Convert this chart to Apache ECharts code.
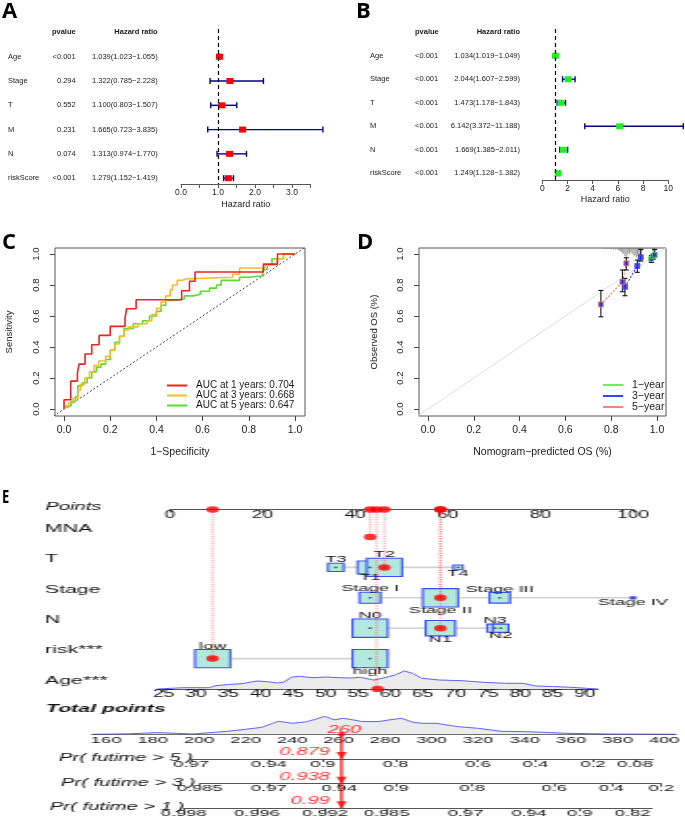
<!DOCTYPE html>
<html>
<head>
<meta charset="utf-8">
<script src="https://cdn.jsdelivr.net/npm/echarts@6/dist/echarts.min.js"></script>
<style>
html,body{margin:0;padding:0;background:#fff;overflow:hidden;}
#main{position:absolute;left:0;top:0;width:685px;height:817px;}
#nomo{position:absolute;left:0;top:485px;width:355px;height:332px;transform:scaleX(1.93);transform-origin:0 0;}
</style>
</head>
<body>
<div id="main"></div>
<div id="nomo"></div>
<script>
// ================= DATA =================
// Panels A / B : forest plots
const forestVars = ['Age','Stage','T','M','N','riskScore'];
const uniP  = ['<0.001','0.294','0.552','0.231','0.074','<0.001'];
const uniHR = [1.039,1.322,1.100,1.665,1.313,1.279];
const uniLo = [1.023,0.785,0.803,0.723,0.974,1.152];
const uniHi = [1.055,2.228,1.507,3.835,1.770,1.419];
const multiP  = ['<0.001','<0.001','<0.001','<0.001','<0.001','<0.001'];
const multiHR = [1.034,2.044,1.473,6.142,1.669,1.249];
const multiLo = [1.019,1.607,1.178,3.372,1.385,1.128];
const multiHi = [1.049,2.599,1.843,11.188,2.011,1.382];

// Panel C : time-dependent ROC
const rocYears = [1,3,5];
const rocAUC = [0.704,0.668,0.647];
const rocX1 = [0,0,0.029,0.058,0.065,0.091,0.12,0.152,0.2,0.264,0.271,0.312,0.509,0.543,0.567,0.863,0.924,1.0];
const rocY1 = [0,0.06,0.18,0.232,0.29,0.355,0.415,0.475,0.533,0.587,0.647,0.705,0.763,0.824,0.884,0.935,1.0,1.0];
const rocX3 = [0,0.02,0.04,0.06,0.07,0.09,0.11,0.13,0.15,0.18,0.2,0.22,0.24,0.26,0.28,0.32,0.36,0.38,0.4,0.42,0.44,0.46,0.47,0.49,0.51,0.53,0.73,0.76,0.87,0.92,0.95,1.0];
const rocY3 = [0.01,0.04,0.07,0.12,0.16,0.2,0.24,0.28,0.31,0.34,0.38,0.42,0.47,0.51,0.53,0.55,0.57,0.61,0.65,0.69,0.73,0.77,0.8,0.83,0.84,0.85,0.87,0.91,0.93,0.97,1.0,1.0];
const rocX5 = [0,0.03,0.05,0.06,0.08,0.1,0.12,0.14,0.16,0.18,0.2,0.22,0.24,0.26,0.3,0.34,0.37,0.4,0.42,0.44,0.48,0.52,0.56,0.59,0.63,0.66,0.68,0.76,0.8,0.86,0.88,0.9,0.95,1.0];
const rocY5 = [0.02,0.05,0.08,0.15,0.17,0.2,0.24,0.27,0.29,0.32,0.38,0.43,0.47,0.52,0.55,0.57,0.6,0.63,0.67,0.7,0.71,0.73,0.74,0.76,0.78,0.8,0.83,0.85,0.86,0.9,0.93,0.97,1.0,1.0];
const unitTicks = [0,0.2,0.4,0.6,0.8,1.0];
const diagLine = [[-0.06,-0.06],[1.06,1.06]];

// Panel D : calibration
const calNames = ['1\u2212year','3\u2212year','5\u2212year'];
const cal1X = [0.975,0.983,0.990], cal1Y = [0.968,0.985,0.995], cal1Lo = [0.946,0.965,0.980], cal1Hi = [0.990,1.000,1.030];
const cal3X = [0.860,0.914,0.929], cal3Y = [0.789,0.923,0.979], cal3Lo = [0.731,0.882,0.955], cal3Hi = [0.843,0.961,1.030];
const cal5X = [0.755,0.849,0.866], cal5Y = [0.675,0.821,0.940], cal5Lo = [0.595,0.757,0.897], cal5Hi = [0.765,0.897,0.976];
const rugX = [0.77,0.78,0.79,0.80,0.81,0.82,0.83,0.835,0.84,0.845,0.85,0.855,0.86,0.865,0.87,0.875,0.88,0.885,0.89,0.895,0.90,0.905,0.91,0.915,0.92,0.925,0.93,0.935,0.94,0.95,0.96,0.97,0.98,0.985,0.99];
const rugN = [1,1,1,1.5,1.5,2,2,3,3,4,5,6,8,9,7,5,6,4,5,6,8,7,9,7,10,8,6,3,2,1,1,1,3,9,4];

// Panel E : nomogram
const tLevels = ['T3','T1','T2','T4'];             const tPts = [35.8,43.2,46.3,62.2];  const tFreq = [0.2,0.5,1,0.07];
const stLevels = ['Stage I','Stage II','Stage III','Stage IV']; const stPts = [43.2,58.4,71.2,100]; const stFreq = [0.36,1,0.34,0.015];
const nLevels = ['N0','N1','N3','N2'];             const nPts = [43.2,58.4,70.2,71.4];  const nFreq = [1,0.7,0.2,0.2];
const riskLevels = ['low','high'];                  const riskPts = [9.2,43.2];          const riskFreq = [1,1];
const ageTicks = [25,30,35,40,45,50,55,60,65,70,75,80,85,90];
const ageDensX = [24,28,32,33,35,37,39.4,41,42.5,43.5,44.8,46,48,50,52,54,55.3,57.4,58.7,60.7,62.1,63.4,64.8,67.5,71,74.3,77.7,80.4,82.4,85,87.8,92];
const ageDensY = [0,1.3,1.3,3.3,4.5,5.3,8,7.3,6,6.7,12,12.7,11.3,12,11.3,11,11.7,9,10.7,14,18,15.7,10.7,9,8.3,6.7,5.7,5.7,3,2.5,1.7,0];
const totTicks = [160,180,200,220,240,260,280,300,320,340,360,380,400];
const totDensX = [154,170,182,190,197,204,212,220,227,234,240,246,250,254,258,262,266,270,277,282,287,292,296,302,311,320,330,339,348,358,368,377,390,405];
const totDensY = [0,0.5,1.7,1,0.3,1.5,3,5,7,13,11,12.5,15,18,14.5,16,14.5,12.7,12.7,14.5,16,12,11,11,7.7,6,3,2.7,2,1,0.6,0.3,0.2,0];
const prNames = ['Pr( futime > 5 )','Pr( futime > 3 )','Pr( futime > 1 )'];
const pr5Ticks = ['0.97','0.94','0.9','0.8','0.6','0.4','0.2','0.08'];
const pr5Pos   = [196.1,229.2,252.2,283.1,318.2,342.6,367.2,385.0];
const pr3Ticks = ['0.985','0.97','0.94','0.9','0.8','0.6','0.4','0.2'];
const pr3Pos   = [199.8,229.2,259.1,283.4,315.8,350.7,375.0,396.2];
const pr1Ticks = ['0.998','0.996','0.992','0.985','0.97','0.94','0.9','0.82'];
const pr1Pos   = [193.0,224.1,253.1,279.3,312.9,340.0,361.5,384.0];
const prEnd    = [392.7,396.2,392.3];
const rowNames = ['MNA','T','Stage','N','risk***','Age***'];
const selPoints = [43.2,46.3,58.4,58.4,9.2,44.6];   // MNA, T, Stage, N, risk, Age
const selAge = 58;
const selProb = ['0.879','0.938','0.99'];

// ================= MAIN CHART (A-D) =================
const FF = '"Liberation Sans", Arial, Helvetica, sans-serif';
const TXT = '#1a1a1a';
const grids = [], xAxes = [], yAxes = [], series = [];
const fmtHR = (h, l, u) => h.toFixed(3) + '(' + l.toFixed(3) + '\u2212' + u.toFixed(3) + ')';

function forestPanel(o) {
  const gi = grids.length;
  grids.push({left:o.left, top:o.top, width:o.width, height:o.height});
  const xi = xAxes.length;
  xAxes.push({gridIndex:gi, type:'value', min:o.xmin, max:o.xmax, interval:o.step, position:'bottom',
    axisLine:{show:true, onZero:false, lineStyle:{color:'#555', width:1}},
    axisTick:{show:true, length:4, lineStyle:{color:'#555'}},
    axisLabel:{fontSize:8.5, color:TXT, fontFamily:FF, margin:4, formatter:o.fmt},
    splitLine:{show:false},
    name:'Hazard ratio', nameLocation:'middle', nameGap:o.nameGap,
    nameTextStyle:{fontSize:9, color:TXT, fontFamily:FF}});
  const yi = yAxes.length;
  const base = {gridIndex:gi, type:'value', inverse:true, min:o.ymin, max:o.ymax,
    axisLine:{show:false, onZero:false}, axisTick:{show:false}, splitLine:{show:false}};
  yAxes.push(Object.assign({}, base, {axisLabel:{show:false}}));
  const rowVals = [0].concat(forestVars.map((_, i) => i + 1));
  o.cols.forEach(c => {
    yAxes.push(Object.assign({}, base, {position:'left', offset:o.left - c.x,
      axisLabel:{customValues:rowVals, margin:0, align:c.align, fontSize:7.5, color:TXT, fontFamily:FF,
        formatter:v => { const i = Math.round(v); return i === 0 ? (c.head ? '{h|' + c.head + '}' : '') : c.texts[i - 1]; },
        rich:{h:{fontWeight:'bold', fontSize:7.5, color:TXT, fontFamily:FF}}}}));
  });
  series.push({type:'custom', xAxisIndex:xi, yAxisIndex:yi, clip:false, z:3, silent:true,
    data:o.lo.map((l, i) => [l, o.hi[i], i + 1]),
    renderItem:(params, api) => {
      const a = api.coord([api.value(0), api.value(2)]);
      const b = api.coord([api.value(1), api.value(2)]);
      const st = {stroke:'#00008B', lineWidth:1.4};
      const c = 3;
      return {type:'group', children:[
        {type:'line', shape:{x1:a[0], y1:a[1], x2:b[0], y2:b[1]}, style:st},
        {type:'line', shape:{x1:a[0], y1:a[1]-c, x2:a[0], y2:a[1]+c}, style:st},
        {type:'line', shape:{x1:b[0], y1:b[1]-c, x2:b[0], y2:b[1]+c}, style:st}]};
    }});
  series.push({type:'scatter', xAxisIndex:xi, yAxisIndex:yi, z:4, symbol:'rect', symbolSize:[7,6], silent:true,
    itemStyle:{color:o.color, opacity:1}, data:o.hr.map((h, i) => [h, i + 1]),
    markLine:{silent:true, symbol:'none', label:{show:false}, lineStyle:{color:'#000', type:[4,3], width:1.2},
      data:[{xAxis:1}]}});
}

forestPanel({left:181, top:29, width:129.5, height:155, xmin:0, xmax:3.5, step:0.5,
  fmt:v => (Math.abs(v - Math.round(v)) < 1e-9 ? v.toFixed(1) : ''), nameGap:16,
  ymin:-0.14, ymax:6.24, color:'#FF0000', hr:uniHR, lo:uniLo, hi:uniHi,
  cols:[{x:8, align:'left', head:'', texts:forestVars},
        {x:75.7, align:'right', head:'pvalue', texts:uniP},
        {x:157.7, align:'right', head:'Hazard ratio', texts:uniHR.map((h, i) => fmtHR(h, uniLo[i], uniHi[i]))}]});
forestPanel({left:542.3, top:29, width:126, height:151, xmin:0, xmax:10, step:2,
  fmt:v => String(v), nameGap:15,
  ymin:-0.136, ymax:6.284, color:'#22EE22', hr:multiHR, lo:multiLo, hi:multiHi,
  cols:[{x:370, align:'left', head:'', texts:forestVars},
        {x:415, align:'left', head:'pvalue', texts:multiP},
        {x:520, align:'right', head:'Hazard ratio', texts:multiHR.map((h, i) => fmtHR(h, multiLo[i], multiHi[i]))}]});

function xyPanel(o) {
  const gi = grids.length;
  grids.push({left:o.left, top:248, width:o.width, height:168, show:true, borderColor:'#555', borderWidth:1});
  const xi = xAxes.length, yi = yAxes.length;
  xAxes.push({gridIndex:gi, type:'value', min:o.xmin, max:o.xmax, position:'bottom', axisLine:{show:false, onZero:false},
    axisTick:{show:true, customValues:unitTicks, length:5, lineStyle:{color:'#444'}},
    axisLabel:{customValues:unitTicks, formatter:v => v.toFixed(1), fontSize:10.5, color:TXT, fontFamily:FF, margin:9},
    splitLine:{show:false}, name:o.xname, nameLocation:'middle', nameGap:31,
    nameTextStyle:{fontSize:10.5, color:TXT, fontFamily:FF}});
  yAxes.push({gridIndex:gi, type:'value', min:-0.045, max:1.039, position:'left', axisLine:{show:false, onZero:false},
    axisTick:{show:true, customValues:unitTicks, length:5, lineStyle:{color:'#444'}},
    axisLabel:{customValues:unitTicks, formatter:v => v.toFixed(1), rotate:90, fontSize:9.5, color:TXT, fontFamily:FF, margin:14},
    splitLine:{show:false}, name:o.yname, nameLocation:'middle', nameGap:o.yGap,
    nameTextStyle:{fontSize:9.5, color:TXT, fontFamily:FF}});
  return {x:xi, y:yi};
}

// Panel C
const aC = xyPanel({left:55, width:250, xmin:-0.039, xmax:1.043, xname:'1\u2212Specificity', yname:'Sensitivity', yGap:41});
series.push({type:'line', xAxisIndex:aC.x, yAxisIndex:aC.y, data:diagLine, symbol:'none', silent:true, z:2,
  lineStyle:{color:'#444', width:1, type:[2,2]}});
const rocColors = ['#EE2222','#EEBF2A','#5CDB2C'];
const rocNames = rocYears.map((y, i) => 'AUC at ' + y + ' years: ' + rocAUC[i].toFixed(3));
[[rocX1, rocY1], [rocX3, rocY3], [rocX5, rocY5]].forEach((xy, k) => {
  series.push({type:'line', name:rocNames[k], xAxisIndex:aC.x, yAxisIndex:aC.y, step:'end', symbol:'none', z:3 + (2 - k),
    data:xy[0].map((x, i) => [x, xy[1][i]]), lineStyle:{color:rocColors[k], width:1.6}, itemStyle:{color:rocColors[k]}});
});

// Panel D
const aD = xyPanel({left:419, width:247, xmin:-0.0393, xmax:1.0393, xname:'Nomogram\u2212predicted OS (%)', yname:'Observed OS (%)', yGap:40});
series.push({type:'line', xAxisIndex:aD.x, yAxisIndex:aD.y, data:diagLine, symbol:'none', silent:true, z:2,
  lineStyle:{color:'#DCDCDC', width:1}});
series.push({type:'custom', xAxisIndex:aD.x, yAxisIndex:aD.y, silent:true, z:2,
  data:rugX.map((x, i) => [x, rugN[i]]),
  renderItem:(params, api) => {
    const p = api.coord([api.value(0), 1.039]);
    return {type:'line', shape:{x1:p[0], y1:p[1], x2:p[0], y2:p[1] + api.value(1) * 1.05}, style:{stroke:'#666', lineWidth:0.6}};
  }});
const calLineColors = ['#55E055','#3344FF','#FF6F6F'];
const calLegendColors = ['#66EE66','#3344FF','#FF8080'];
[[cal1X, cal1Y, cal1Lo, cal1Hi], [cal3X, cal3Y, cal3Lo, cal3Hi], [cal5X, cal5Y, cal5Lo, cal5Hi]].forEach((c, k) => {
  series.push({type:'line', name:calNames[k], xAxisIndex:aD.x, yAxisIndex:aD.y, symbol:'none', z:3,
    data:c[0].map((x, i) => [x, c[1][i]]), lineStyle:{color:calLineColors[k], width:1.1, type:[2,1.5]},
    itemStyle:{color:calLegendColors[k]}});
  series.push({type:'custom', xAxisIndex:aD.x, yAxisIndex:aD.y, silent:true, z:4, clip:false,
    data:c[0].map((x, i) => [x, c[2][i], c[3][i]]),
    renderItem:(params, api) => {
      const a = api.coord([api.value(0), api.value(1)]);
      const b = api.coord([api.value(0), Math.min(api.value(2), 1.039)]);
      const st = {stroke:'#111', lineWidth:1.1};
      return {type:'group', children:[
        {type:'line', shape:{x1:a[0], y1:a[1], x2:b[0], y2:b[1]}, style:st},
        {type:'line', shape:{x1:a[0]-2.5, y1:a[1], x2:a[0]+2.5, y2:a[1]}, style:st},
        {type:'line', shape:{x1:b[0]-2.5, y1:b[1], x2:b[0]+2.5, y2:b[1]}, style:st}]};
    }});
  series.push({type:'scatter', xAxisIndex:aD.x, yAxisIndex:aD.y, silent:true, z:5, symbol:'rect', symbolSize:5,
    data:c[0].map((x, i) => [x, c[1][i]]),
    itemStyle:{color:'#2B2BD9', borderColor:calLineColors[k], borderWidth:1}});
});

const mainOption = {
  animation:false,
  backgroundColor:'#fff',
  textStyle:{fontFamily:FF},
  grid:grids, xAxis:xAxes, yAxis:yAxes, series:series,
  legend:[
    {left:162, top:375.5, orient:'vertical', icon:'rect', itemWidth:20, itemHeight:2, itemGap:0, selectedMode:false,
     data:rocNames, textStyle:{fontSize:10, color:TXT, fontFamily:FF, lineHeight:10, padding:[0,0,0,4]}},
    {left:598, top:374.5, orient:'vertical', icon:'rect', itemWidth:20, itemHeight:2, itemGap:0, selectedMode:false,
     data:calNames, textStyle:{fontSize:10.5, color:TXT, fontFamily:FF, lineHeight:10.5, padding:[0,0,0,4]}}
  ],
  graphic:[
    {type:'text', x:2, y:12, style:{text:'A', fontSize:22, fontWeight:'bold', fontFamily:'"Open Sans", sans-serif', fill:'#000', verticalAlign:'middle'}},
    {type:'text', x:356, y:12, style:{text:'B', fontSize:22, fontWeight:'bold', fontFamily:'"Open Sans", sans-serif', fill:'#000', verticalAlign:'middle'}},
    {type:'text', x:2, y:243, style:{text:'C', fontSize:22, fontWeight:'bold', fontFamily:'"Open Sans", sans-serif', fill:'#000', verticalAlign:'middle'}},
    {type:'text', x:357, y:243, style:{text:'D', fontSize:22, fontWeight:'bold', fontFamily:'"Open Sans", sans-serif', fill:'#000', verticalAlign:'middle'}},
    {type:'text', x:2, y:498, scaleX:0.72, style:{text:'E', fontSize:18, fontWeight:'bold', fontFamily:'"Open Sans", sans-serif', fill:'#000', verticalAlign:'middle'}}
  ]
};
try { echarts.init(document.getElementById('main')).setOption(mainOption); } catch (e) { console.error(e); }

// ================= NOMOGRAM (E) =================
const S = 1.93;                       // horizontal stretch of the nomogram panel
const lx = px => px / S, ly = py => py - 485;
const ptsPx = p => 170 + p * 4.63;
const agePx = a => 163.5 + (a - 25) * 6.485;
const totPx = t => 106.3 + (t - 160) * 2.349;
const ptsAxisY = 509.5, rowY0 = 537, rowDY = 30.4, totAxisY = 734.3, prDY = 24.67;
const rowMin = 1 - (rowY0 - ptsAxisY) / rowDY;
const ET = '#111';

const gE = [
  {left:lx(ptsPx(0)), width:lx(ptsPx(100) - ptsPx(0)), top:ly(ptsAxisY), height:rowY0 + 5 * rowDY - ptsAxisY},
  {left:lx(agePx(24)), width:lx(agePx(92) - agePx(24)), top:ly(rowY0 + 5 * rowDY - 22), height:22},
  {left:lx(totPx(154)), width:lx(totPx(405) - totPx(154)), top:ly(totAxisY - 22), height:22},
  {left:lx(totPx(154)), width:lx(totPx(405) - totPx(154)), top:ly(totAxisY), height:3 * prDY}
];
const prPosAll = [pr5Pos, pr3Pos, pr1Pos], prTickAll = [pr5Ticks, pr3Ticks, pr1Ticks];
prPosAll.forEach((pos, i) => {
  gE.push({left:lx(totPx(pos[0])), width:lx(totPx(prEnd[i]) - totPx(pos[0])), top:ly(totAxisY + (i + 1) * prDY), height:1});
});

const hiddenY = (gi, min, max, inv) => ({gridIndex:gi, type:'value', min:min, max:max, inverse:!!inv, show:false});
const xE = [
  {gridIndex:0, type:'value', min:0, max:100, interval:20, position:'top',
   axisLine:{onZero:false, lineStyle:{color:'#555', width:1}}, axisTick:{inside:true, length:3, lineStyle:{color:'#555'}},
   axisLabel:{inside:true, margin:0.5, fontSize:10, color:ET, fontFamily:FF}, splitLine:{show:false}},
  {gridIndex:1, type:'value', min:24, max:92, position:'bottom',
   axisLine:{onZero:false, lineStyle:{color:'#555', width:1}}, axisTick:{customValues:ageTicks, length:3, lineStyle:{color:'#555'}},
   axisLabel:{customValues:ageTicks, margin:0, fontSize:10, color:ET, fontFamily:FF}, splitLine:{show:false}},
  {gridIndex:2, type:'value', min:154, max:405, position:'bottom',
   axisLine:{onZero:false, lineStyle:{color:'#555', width:1}}, axisTick:{show:false},
   axisLabel:{customValues:totTicks, margin:1, fontSize:9.5, color:ET, fontFamily:FF}, splitLine:{show:false}},
  {gridIndex:3, type:'value', min:154, max:405, show:false}
];
prPosAll.forEach((pos, i) => {
  xE.push({gridIndex:4 + i, type:'value', min:pos[0], max:prEnd[i], position:'top',
    axisLine:{onZero:false, lineStyle:{color:'#555', width:1}},
    axisTick:{inside:true, customValues:pos, length:3, lineStyle:{color:'#555'}},
    axisLabel:{inside:true, customValues:pos, margin:0, fontSize:9.5, color:ET, fontFamily:FF,
      formatter:v => { const j = pos.findIndex(p => Math.abs(p - v) < 1e-6); return j >= 0 ? prTickAll[i][j] : ''; }},
    splitLine:{show:false}});
});
const yE = [hiddenY(0, rowMin, 6, true), hiddenY(1, 0, 22), hiddenY(2, 0, 22), hiddenY(3, 0, 3, true),
            hiddenY(4, 0, 1), hiddenY(5, 0, 1), hiddenY(6, 0, 1)];

const sE = [];
const catRows = [[tLevels, tPts, tFreq, 2], [stLevels, stPts, stFreq, 3], [nLevels, nPts, nFreq, 4], [riskLevels, riskPts, riskFreq, 5]];
const boxData = [];
catRows.forEach(r => {
  const [lv, pts, fr, row] = r;
  sE.push({type:'line', xAxisIndex:0, yAxisIndex:0, symbol:'none', silent:true, z:1,
    data:[[Math.min(...pts), row], [Math.max(...pts), row]], lineStyle:{color:'#D2D2D2', width:1.6}});
  const order = pts.map((p, i) => i).sort((a, b) => pts[a] - pts[b]);
  order.forEach((idx, rank) => {
    const top = rank % 2 === 0;
    boxData.push({name:lv[idx], value:[pts[idx], row, 18.3 * Math.sqrt(fr[idx])],
      label:{position:top ? 'top' : 'bottom', offset:[0, top ? 1.5 : -1.5]}});
  });
});
sE.push({type:'scatter', xAxisIndex:0, yAxisIndex:0, symbol:'rect', silent:true, z:2,
  symbolSize:v => [v[2], v[2]], data:boxData,
  itemStyle:{color:'#B3E8DF', borderColor:'#3B4CFF', borderWidth:1.1, opacity:1},
  label:{show:true, formatter:p => p.name, distance:0, fontSize:9.5, lineHeight:9, color:ET, fontFamily:FF}});
sE.push({type:'scatter', xAxisIndex:0, yAxisIndex:0, symbol:'circle', symbolSize:1.8, silent:true, z:3,
  data:boxData.map(d => [d.value[0], d.value[1]]), itemStyle:{color:'#333'}});
sE.push({type:'custom', xAxisIndex:0, yAxisIndex:0, silent:true, z:4, clip:false,
  data:selPoints.map((p, i) => [p, i + 1]),
  renderItem:(params, api) => {
    const a = api.coord([api.value(0), rowMin]);
    const b = api.coord([api.value(0), api.value(1)]);
    return {type:'line', shape:{x1:a[0], y1:a[1], x2:b[0], y2:b[1]}, style:{stroke:'#FF4040', lineWidth:0.6, lineDash:[1.2,1.2]}};
  }});
sE.push({type:'scatter', xAxisIndex:0, yAxisIndex:0, symbol:'circle', symbolSize:6.5, silent:true, z:6,
  data:selPoints.map(p => [p, rowMin]).concat(selPoints.slice(0, 5).map((p, i) => [p, i + 1])),
  itemStyle:{color:'#FF0000'}});
sE.push({type:'scatter', xAxisIndex:1, yAxisIndex:1, symbol:'circle', symbolSize:6.5, silent:true, z:6,
  data:[[selAge, 0]], itemStyle:{color:'#FF0000'}});
sE.push({type:'line', xAxisIndex:1, yAxisIndex:1, symbol:'none', silent:true, z:2,
  data:ageDensX.map((x, i) => [x, ageDensY[i]]), lineStyle:{color:'#3A3AFF', width:0.8},
  areaStyle:{color:'#EBEBEB', opacity:1}});
sE.push({type:'line', xAxisIndex:2, yAxisIndex:2, symbol:'none', silent:true, z:2,
  data:totDensX.map((x, i) => [x, totDensY[i]]), lineStyle:{color:'#3A3AFF', width:0.8},
  areaStyle:{color:'#EBEBEB', opacity:1}});
const totalPts = selPoints.reduce((a, b) => a + b, 0);
sE.push({type:'line', xAxisIndex:3, yAxisIndex:3, symbol:'none', silent:true, z:5,
  data:[[totalPts, 0], [totalPts, 3]], lineStyle:{color:'#FF0000', width:1.2}});
sE.push({type:'scatter', xAxisIndex:3, yAxisIndex:3, symbol:'triangle', symbolRotate:180, symbolSize:[5.5,7],
  symbolOffset:[0,-3.5], silent:true, z:6, data:[[totalPts, 1], [totalPts, 2], [totalPts, 3]], itemStyle:{color:'#FF0000'}});
sE.push({type:'scatter', xAxisIndex:3, yAxisIndex:3, symbol:'circle', symbolSize:[3.4,5.5], silent:true, z:6,
  data:[[totalPts, 0]], itemStyle:{color:'#FF0000'},
  label:{show:true, position:'inside', offset:[1.5,-4], formatter:() => String(Math.round(totalPts)),
    fontStyle:'italic', fontSize:10.5, color:'#FF0000', fontFamily:FF}});
sE.push({type:'scatter', xAxisIndex:3, yAxisIndex:3, symbolSize:0, silent:true, z:6,
  data:selProb.map((p, i) => ({value:[totalPts, i + 1], name:p})),
  label:{show:true, position:'left', distance:6, offset:[0,-7], formatter:p => p.name,
    fontStyle:'italic', fontSize:10.5, color:'#FF0000', fontFamily:FF}});

const gText = (t, x, y, extra) => ({type:'text', x:lx(x), y:ly(y),
  style:Object.assign({text:t, fontSize:11, fontFamily:FF, fill:ET, verticalAlign:'middle'}, extra || {})});
const prNameRight = [193.2, 195.4, 184.5];
const graphicE = [gText('Points', 45.2, 507.3, {fontStyle:'italic', fontSize:10.5})]
  .concat(rowNames.map((n, i) => gText(n, 45, rowY0 + i * rowDY - 8.3)))
  .concat([gText('Total points', 46, 709, {fontStyle:'italic', fontWeight:'bold'})])
  .concat(prNames.map((n, i) => gText(n, prNameRight[i], totAxisY + (i + 1) * prDY - 1,
    {fontStyle:'italic', fontSize:10.5, align:'right'})));

try {
  echarts.init(document.getElementById('nomo')).setOption({
    animation:false, textStyle:{fontFamily:FF},
    grid:gE, xAxis:xE, yAxis:yE, series:sE, graphic:graphicE
  });
} catch (e) { console.error(e); }
</script>
</body>
</html>
